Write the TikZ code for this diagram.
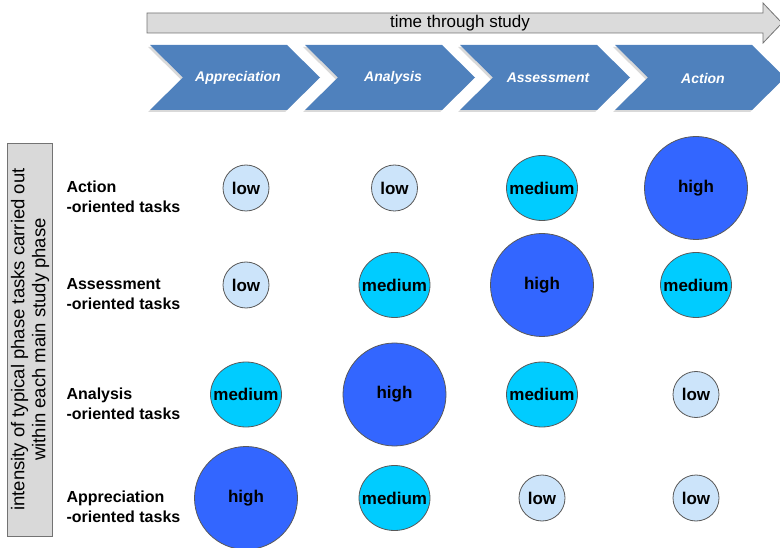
\documentclass[tikz,border=0pt]{standalone}
\usepackage{fontspec}
\setmainfont{Liberation Sans}
\usetikzlibrary{shapes.geometric}

\definecolor{phaseblue}{RGB}{79,129,189}
\definecolor{lowfill}{RGB}{204,228,250}
\definecolor{medfill}{RGB}{0,204,255}
\definecolor{highfill}{RGB}{51,102,255}

\begin{document}
\begin{tikzpicture}[x=1pt, y=-1pt,
  level/.style={draw=black!65, line width=0.8pt, inner sep=0pt,
                font=\fontsize{17}{19}\selectfont\bfseries},
  low/.style={level, circle, fill=lowfill, minimum size=46pt},
  medium/.style={level, ellipse, fill=medfill, minimum width=71pt,
                 minimum height=65pt, inner xsep=-12pt},
  high/.style={level, circle, fill=highfill, minimum size=103pt},
  phase/.style={fill=phaseblue,
                preaction={fill=black!15, transform canvas={shift={(-2,2)}}}},
  phase name/.style={text=white, font=\fontsize{14}{16}\selectfont\bfseries\itshape},
  task/.style={anchor=west, align=left, font=\fontsize{16}{20}\selectfont\bfseries}]

\useasboundingbox (0,0) rectangle (780,548);

% time arrow
\draw[draw=black!55, fill=black!14, line width=0.8pt]
  (147,13) -- (763,13) -- (763,3) -- (782,23) -- (763,43) -- (763,33) -- (147,33) -- cycle;
\node[font=\fontsize{17}{19}\selectfont] (time) at (460,23) {time through study};

% study phases
\fill[phase] (150,45) -- (287,45) -- (320,77.5) -- (287,110) -- (150,110) -- (183,77.5) -- cycle;
\fill[phase, shift={(155,0)}] (150,45) -- (287,45) -- (320,77.5) -- (287,110) -- (150,110) -- (183,77.5) -- cycle;
\fill[phase, shift={(310,0)}] (150,45) -- (287,45) -- (320,77.5) -- (287,110) -- (150,110) -- (183,77.5) -- cycle;
\fill[phase, shift={(465,0)}] (150,45) -- (287,45) -- (320,77.5) -- (287,110) -- (150,110) -- (183,77.5) -- cycle;

\node[phase name] (appr) at (238,78) {Appreciation};
\node[phase name] (anal) at (393,78) {Analysis};
\node[phase name] (asse) at (548,78) {Assessment};
\node[phase name] (acti) at (703,78) {Action};

% vertical axis label
\node[draw=black!55, fill=black!15, line width=0.8pt, rotate=90,
      minimum width=393pt, minimum height=45pt, inner sep=0pt, align=center,
      font=\fontsize{18.5}{21}\selectfont] (axis) at (30,339.5)
      {intensity of typical phase tasks carried out\\within each main study phase};

% task rows
\node[task] (act) at (63,197) {Action\\-oriented tasks};
\node[task] (ass) at (63,294) {Assessment\\-oriented tasks};
\node[task] (ana) at (63,403.5) {Analysis\\-oriented tasks};
\node[task] (app) at (63,507) {Appreciation\\-oriented tasks};

% intensities
\node[low]    (act1) at (246,188) {low};
\node[low]    (act2) at (394.5,188) {low};
\node[medium] (act3) at (542,188) {medium};
\node[high]   (act4) at (696,188) {high};

\node[low]    (ass1) at (246,285) {low};
\node[medium] (ass2) at (394.5,285) {medium};
\node[high]   (ass3) at (542,285) {high};
\node[medium] (ass4) at (696,285) {medium};

\node[medium] (ana1) at (246,394.5) {medium};
\node[high]   (ana2) at (394.5,394.5) {high};
\node[medium] (ana3) at (542,394.5) {medium};
\node[low]    (ana4) at (696,394.5) {low};

\node[high]   (app1) at (246,498) {high};
\node[medium] (app2) at (394.5,498) {medium};
\node[low]    (app3) at (542,498) {low};
\node[low]    (app4) at (696,498) {low};

\end{tikzpicture}
\end{document}
